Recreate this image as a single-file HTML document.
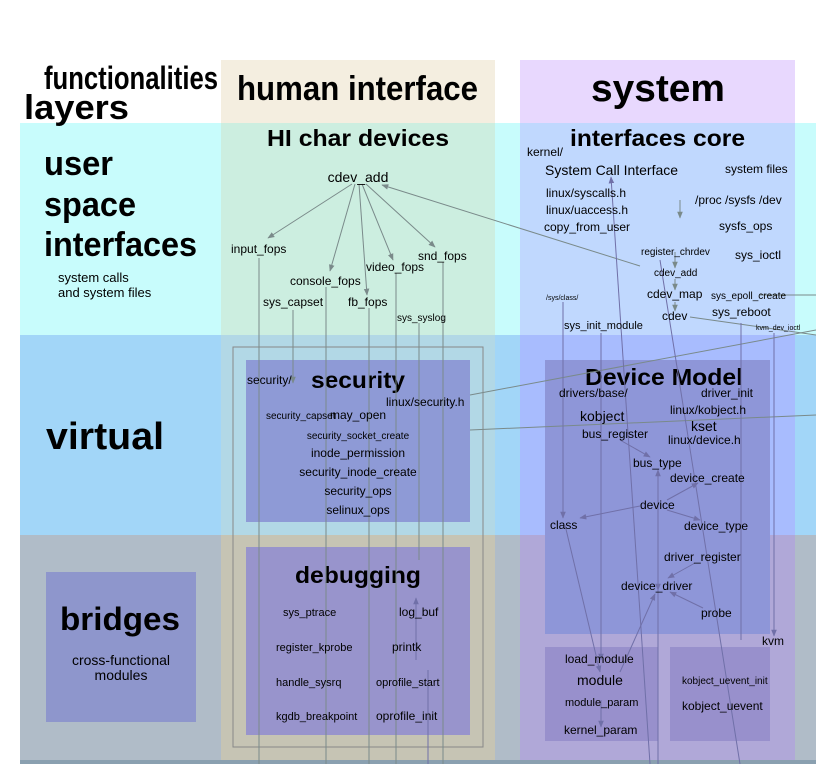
<!DOCTYPE html>
<html><head><meta charset="utf-8"><style>
html,body{margin:0;padding:0;background:#fff;width:816px;height:764px;overflow:hidden}
text{font-family:"Liberation Sans",sans-serif;fill:#000}
.b{font-weight:bold}
.l{stroke:#7a8a8a;stroke-width:1;fill:none}
.lp{stroke:#7070a8;stroke-width:1;fill:none}
</style></head><body>
<svg width="816" height="764" viewBox="0 0 816 764" xmlns="http://www.w3.org/2000/svg">
<defs>
<marker id="a" viewBox="0 0 10 10" refX="9" refY="5" markerWidth="7" markerHeight="7" orient="auto"><path d="M0,1 L10,5 L0,9 z" fill="#7a8a8a"/></marker>
<marker id="ap" viewBox="0 0 10 10" refX="9" refY="5" markerWidth="7" markerHeight="7" orient="auto"><path d="M0,1 L10,5 L0,9 z" fill="#7070a8"/></marker>
</defs>
<rect x="20" y="123" width="796" height="212" fill="#c8fcfc"/>
<rect x="20" y="335" width="796" height="200" fill="#a2d6f8"/>
<rect x="20" y="535" width="796" height="225" fill="#b0bcc8"/>
<rect x="221" y="60" width="274" height="63" fill="#f4eee0"/>
<rect x="221" y="123" width="274" height="212" fill="#cceee0"/>
<rect x="221" y="335" width="274" height="200" fill="#b2d8e6"/>
<rect x="221" y="535" width="274" height="225" fill="#c6c4b4"/>
<rect x="520" y="60" width="275" height="63" fill="#e8d8fe"/>
<rect x="520" y="123" width="275" height="212" fill="#c0d8fe"/>
<rect x="520" y="335" width="275" height="200" fill="#a8bcfe"/>
<rect x="520" y="535" width="275" height="225" fill="#b0a8d8"/>
<rect x="20" y="760" width="796" height="4" fill="#8aa0b0"/>
<rect x="233" y="347" width="250" height="400" fill="none" stroke="#888" stroke-width="1"/>
<rect x="246" y="360" width="224" height="162" fill="#8e9ad6"/>
<rect x="246" y="547" width="224" height="188" fill="#9894cc"/>
<rect x="545" y="360" width="225" height="274" fill="#8e96d8"/>
<rect x="545" y="647" width="113" height="94" fill="#9890cc"/>
<rect x="670" y="647" width="100" height="94" fill="#9890cc"/>
<rect x="46" y="572" width="150" height="150" fill="#8e96cc"/>
<g class="b" lengthAdjust="spacingAndGlyphs">
<text x="44" y="89" font-size="32" textLength="174" lengthAdjust="spacingAndGlyphs">functionalities</text>
<text x="24" y="119" font-size="34" textLength="105" lengthAdjust="spacingAndGlyphs">layers</text>
<text x="237" y="100" font-size="34" textLength="241" lengthAdjust="spacingAndGlyphs">human interface</text>
<text x="591" y="101" font-size="38" textLength="134" lengthAdjust="spacingAndGlyphs">system</text>
<text x="44" y="175" font-size="34" textLength="69" lengthAdjust="spacingAndGlyphs">user</text>
<text x="44" y="216" font-size="34" textLength="92" lengthAdjust="spacingAndGlyphs">space</text>
<text x="44" y="256" font-size="34" textLength="153" lengthAdjust="spacingAndGlyphs">interfaces</text>
<text x="46" y="449" font-size="38" textLength="118" lengthAdjust="spacingAndGlyphs">virtual</text>
<text x="60" y="630" font-size="32" textLength="120" lengthAdjust="spacingAndGlyphs">bridges</text>
<text x="267" y="146" font-size="23" textLength="182" lengthAdjust="spacingAndGlyphs">HI char devices</text>
<text x="570" y="146" font-size="23" textLength="175" lengthAdjust="spacingAndGlyphs">interfaces core</text>
<text x="311" y="388" font-size="23" textLength="94" lengthAdjust="spacingAndGlyphs">security</text>
<text x="295" y="583" font-size="23" textLength="126" lengthAdjust="spacingAndGlyphs">debugging</text>
<text x="585" y="385" font-size="23" textLength="158" lengthAdjust="spacingAndGlyphs">Device Model</text>
</g>
<text x="58" y="282" font-size="13">system calls</text>
<text x="58" y="297" font-size="13">and system files</text>
<text x="121" y="665" font-size="14" text-anchor="middle">cross-functional</text>
<text x="121" y="680" font-size="14" text-anchor="middle">modules</text>
<g class="l">
<line x1="352" y1="184" x2="268" y2="238" marker-end="url(#a)"/>
<line x1="355" y1="184" x2="330" y2="271" marker-end="url(#a)"/>
<line x1="359" y1="184" x2="367" y2="295" marker-end="url(#a)"/>
<line x1="362" y1="184" x2="393" y2="260" marker-end="url(#a)"/>
<line x1="366" y1="184" x2="435" y2="247" marker-end="url(#a)"/>
<line x1="640" y1="266" x2="382" y2="185" marker-end="url(#a)"/>
<line x1="259" y1="258" x2="259" y2="764"/>
<line x1="293" y1="310" x2="293" y2="383" marker-end="url(#a)"/>
<line x1="326" y1="287" x2="326" y2="764"/>
<line x1="369" y1="308" x2="369" y2="764"/>
<line x1="396" y1="273" x2="396" y2="764"/>
<line x1="419" y1="323" x2="419" y2="560"/>
<line x1="443" y1="262" x2="443" y2="764"/>
<line x1="675" y1="252" x2="675" y2="268" marker-end="url(#a)"/>
<line x1="675" y1="279" x2="675" y2="290" marker-end="url(#a)"/>
<line x1="675" y1="302" x2="675" y2="311" marker-end="url(#a)"/>
<line x1="680" y1="200" x2="680" y2="218" marker-end="url(#a)"/>
<line x1="690" y1="317" x2="816" y2="335"/>
<line x1="760" y1="295" x2="816" y2="295"/>
<line x1="470" y1="395" x2="816" y2="330"/>
<line x1="470" y1="430" x2="816" y2="415"/>
</g>
<g class="lp">
<line x1="563" y1="302" x2="563" y2="518" marker-end="url(#ap)"/>
<line x1="601" y1="333" x2="601" y2="660" marker-end="url(#ap)"/>
<line x1="650" y1="764" x2="611" y2="177" marker-end="url(#ap)"/>
<line x1="740" y1="764" x2="660" y2="260"/>
<line x1="658" y1="582" x2="658" y2="764"/>
<line x1="741" y1="323" x2="741" y2="640"/>
<line x1="774" y1="333" x2="774" y2="636" marker-end="url(#ap)"/>
<line x1="658" y1="570" x2="658" y2="470" marker-end="url(#ap)"/>
<line x1="658" y1="470" x2="658" y2="590" marker-end="url(#ap)"/>
<line x1="620" y1="440" x2="650" y2="457" marker-end="url(#ap)"/>
<line x1="640" y1="506" x2="580" y2="518" marker-end="url(#ap)"/>
<line x1="667" y1="500" x2="698" y2="483" marker-end="url(#ap)"/>
<line x1="667" y1="510" x2="700" y2="520" marker-end="url(#ap)"/>
<line x1="695" y1="563" x2="668" y2="578" marker-end="url(#ap)"/>
<line x1="703" y1="608" x2="670" y2="592" marker-end="url(#ap)"/>
<line x1="565" y1="525" x2="600" y2="672" marker-end="url(#ap)"/>
<line x1="620" y1="672" x2="655" y2="594" marker-end="url(#ap)"/>
<line x1="601" y1="700" x2="601" y2="727" marker-end="url(#ap)"/>
<line x1="428" y1="670" x2="428" y2="764"/>
<line x1="416" y1="660" x2="416" y2="598" marker-end="url(#ap)"/>
</g>
<g font-size="12">
<text x="358" y="182" font-size="14" text-anchor="middle">cdev_add</text>
<text x="231" y="253">input_fops</text>
<text x="290" y="285">console_fops</text>
<text x="348" y="306">fb_fops</text>
<text x="366" y="271">video_fops</text>
<text x="418" y="260">snd_fops</text>
<text x="263" y="306">sys_capset</text>
<text x="397" y="321" font-size="10">sys_syslog</text>
<text x="247" y="384">security/</text>
<text x="386" y="406">linux/security.h</text>
<text x="266" y="419" font-size="10">security_capset</text>
<text x="330" y="419">may_open</text>
<text x="358" y="439" font-size="10" text-anchor="middle">security_socket_create</text>
<text x="358" y="457" text-anchor="middle">inode_permission</text>
<text x="358" y="476" text-anchor="middle">security_inode_create</text>
<text x="358" y="495" text-anchor="middle">security_ops</text>
<text x="358" y="514" text-anchor="middle">selinux_ops</text>
<text x="283" y="616" font-size="11">sys_ptrace</text>
<text x="399" y="616">log_buf</text>
<text x="276" y="651" font-size="11">register_kprobe</text>
<text x="392" y="651">printk</text>
<text x="276" y="686" font-size="11">handle_sysrq</text>
<text x="376" y="686" font-size="11">oprofile_start</text>
<text x="276" y="720" font-size="11">kgdb_breakpoint</text>
<text x="376" y="720">oprofile_init</text>
</g>
<g font-size="12">
<text x="527" y="156">kernel/</text>
<text x="545" y="175" font-size="14">System Call Interface</text>
<text x="725" y="173">system files</text>
<text x="546" y="197">linux/syscalls.h</text>
<text x="546" y="214">linux/uaccess.h</text>
<text x="544" y="231">copy_from_user</text>
<text x="695" y="204">/proc  /sysfs  /dev</text>
<text x="719" y="230">sysfs_ops</text>
<text x="641" y="255" font-size="10">register_chrdev</text>
<text x="654" y="276" font-size="10">cdev_add</text>
<text x="647" y="298">cdev_map</text>
<text x="662" y="320">cdev</text>
<text x="735" y="259">sys_ioctl</text>
<text x="711" y="299" font-size="10">sys_epoll_create</text>
<text x="712" y="316">sys_reboot</text>
<text x="546" y="300" font-size="7">/sys/class/</text>
<text x="564" y="329" font-size="11">sys_init_module</text>
<text x="756" y="330" font-size="7">kvm_dev_ioctl</text>
<text x="559" y="397">drivers/base/</text>
<text x="701" y="397">driver_init</text>
<text x="670" y="414">linux/kobject.h</text>
<text x="580" y="421" font-size="14">kobject</text>
<text x="691" y="431" font-size="14">kset</text>
<text x="582" y="438">bus_register</text>
<text x="668" y="444">linux/device.h</text>
<text x="633" y="467">bus_type</text>
<text x="670" y="482">device_create</text>
<text x="640" y="509">device</text>
<text x="550" y="529">class</text>
<text x="684" y="530">device_type</text>
<text x="664" y="561">driver_register</text>
<text x="621" y="590">device_driver</text>
<text x="701" y="617">probe</text>
<text x="762" y="645">kvm</text>
<text x="565" y="663">load_module</text>
<text x="577" y="685" font-size="14">module</text>
<text x="565" y="706" font-size="11">module_param</text>
<text x="564" y="734">kernel_param</text>
<text x="682" y="684" font-size="10">kobject_uevent_init</text>
<text x="682" y="710" font-size="12">kobject_uevent</text>
</g>
</svg>
</body></html>
